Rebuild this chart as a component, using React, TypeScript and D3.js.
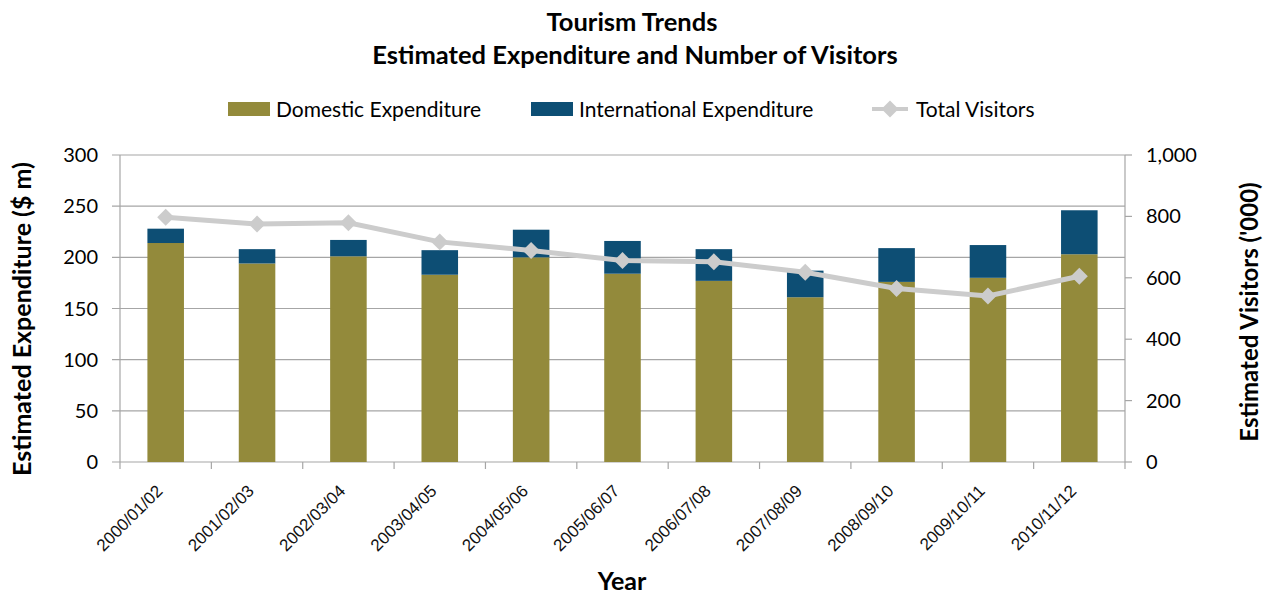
import React from 'react';
import * as d3 from 'd3';

const years = ['2000/01/02', '2001/02/03', '2002/03/04', '2003/04/05', '2004/05/06', '2005/06/07', '2006/07/08', '2007/08/09', '2008/09/10', '2009/10/11', '2010/11/12'];
const domestic = [214, 194, 201, 183, 200, 184, 177, 161, 176, 180, 203];
const international = [14, 14, 16, 24, 27, 32, 31, 26, 33, 32, 43];
const visitors = [797, 775, 779, 717, 689, 656, 652, 618, 565, 541, 605];
const leftTicks = [0, 50, 100, 150, 200, 250, 300];
const rightTicks = [0, 200, 400, 600, 800, 1000];

const W = 1270;
const H = 596;
const margin = { left: 120, right: 145, top: 155, bottom: 134 };

const OLIVE = '#938a3b';
const BLUE = '#0d4e74';
const LINE = '#cccccc';
const GRID = '#a6a6a6';
const FONT = 'Lato, "Open Sans", sans-serif';

export default function App() {
  const x = d3.scaleBand<string>().domain(years).range([margin.left, W - margin.right]).padding(0);
  const yL = d3.scaleLinear().domain([0, 300]).range([H - margin.bottom, margin.top]);
  const yR = d3.scaleLinear().domain([0, 1000]).range([H - margin.bottom, margin.top]);
  const bw = x.bandwidth() * 0.4;
  const cx = (d: string) => (x(d) ?? 0) + x.bandwidth() / 2;
  const line = d3.line<number>().x((_, i) => cx(years[i])).y(d => yR(d));
  // rotated square -> diamond marker like the original
  const diamond = d3.symbol().type(d3.symbolSquare).size(144)();

  const x0 = margin.left;
  const x1 = W - margin.right;
  const yb = H - margin.bottom;

  return (
    <svg width={W} height={H} style={{ position: 'absolute', left: 0, top: 0, fontFamily: FONT }}>
      <rect width={W} height={H} fill="#fff" />
      <text x={632} y={31} textAnchor="middle" fontSize={25.5} fontWeight="bold">Tourism Trends</text>
      <text x={635} y={64} textAnchor="middle" fontSize={25.5} fontWeight="bold">Estimated Expenditure and Number of Visitors</text>

      {/* legend */}
      <g fontSize={21}>
        <rect x={228} y={102} width={42} height={14} fill={OLIVE} />
        <text x={276} y={117}>Domestic Expenditure</text>
        <rect x={531} y={102} width={42} height={14} fill={BLUE} />
        <text x={579} y={117}>International Expenditure</text>
        <line x1={872} x2={908} y1={109} y2={109} stroke={LINE} strokeWidth={4} />
        <path d={diamond} transform="translate(890,109) rotate(45)" fill={LINE} />
        <text x={916} y={117}>Total Visitors</text>
      </g>

      {/* gridlines */}
      {leftTicks.map(t => (
        <line key={t} x1={x0 - 8} x2={x1} y1={yL(t)} y2={yL(t)} stroke={GRID} strokeWidth={1.2} />
      ))}
      <line x1={x0} x2={x0} y1={margin.top} y2={yb} stroke={GRID} strokeWidth={1.2} />
      <line x1={x1} x2={x1} y1={margin.top} y2={yb} stroke={GRID} strokeWidth={1.2} />
      {years.map(d => (
        <line key={d} x1={x(d)} x2={x(d)} y1={yb} y2={yb + 7} stroke={GRID} strokeWidth={1.2} />
      ))}
      <line x1={x1} x2={x1} y1={yb} y2={yb + 7} stroke={GRID} strokeWidth={1.2} />
      {rightTicks.map(t => (
        <line key={t} x1={x1} x2={x1 + 7} y1={yR(t)} y2={yR(t)} stroke={GRID} strokeWidth={1.2} />
      ))}

      {/* bars */}
      {years.map((d, i) => (
        <g key={d}>
          <rect x={cx(d) - bw / 2} width={bw} y={yL(domestic[i])} height={yL(0) - yL(domestic[i])} fill={OLIVE} />
          <rect x={cx(d) - bw / 2} width={bw} y={yL(domestic[i] + international[i])} height={yL(domestic[i]) - yL(domestic[i] + international[i])} fill={BLUE} />
        </g>
      ))}

      {/* visitors line */}
      <path d={line(visitors) ?? ''} fill="none" stroke={LINE} strokeWidth={5} />
      {visitors.map((v, i) => (
        <path key={i} d={diamond} transform={`translate(${cx(years[i])},${yR(v)}) rotate(45)`} fill={LINE} />
      ))}

      {/* axis tick labels */}
      <g fontSize={20} textAnchor="end">
        {leftTicks.map(t => (
          <text key={t} x={98} y={yL(t)} dy="0.35em">{t}</text>
        ))}
      </g>
      <g fontSize={20}>
        {rightTicks.map(t => (
          <text key={t} x={1146} y={yR(t)} dy="0.35em">{d3.format(',')(t)}</text>
        ))}
      </g>

      <g fontSize={17} fontFamily='"Liberation Sans", Arial, sans-serif' fill="#111">
        {years.map(d => (
          <text key={d} transform={`translate(${cx(d) - 2},${yb + 30}) rotate(-45)`} textAnchor="end">{d}</text>
        ))}
      </g>

      <text x={622} y={590} textAnchor="middle" fontSize={25} fontWeight="bold">Year</text>
      <text transform="translate(31,319) rotate(-90)" textAnchor="middle" fontSize={25} fontWeight="bold">Estimated Expenditure ($ m)</text>
      <text transform="translate(1258,312) rotate(-90)" textAnchor="middle" fontSize={24} fontWeight="bold">Estimated Visitors ('000)</text>
    </svg>
  );
}
